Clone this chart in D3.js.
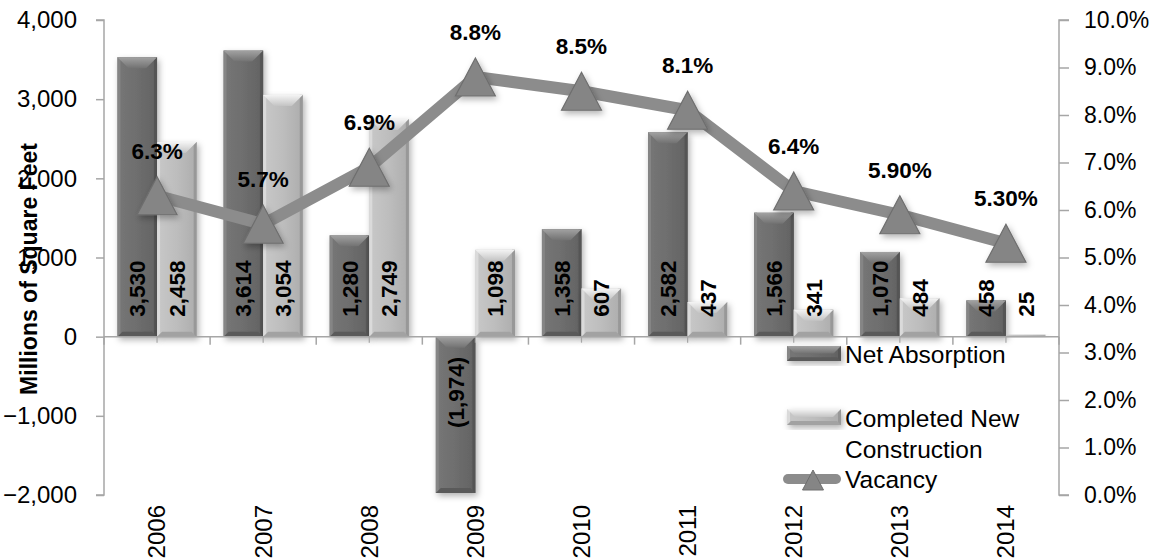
<!DOCTYPE html>
<html>
<head>
<meta charset="utf-8">
<script src="https://cdn.jsdelivr.net/npm/d3@7"></script>
<style>
html,body{margin:0;padding:0;background:#fff;}
svg{display:block;font-family:"Liberation Sans",Arial,sans-serif;}
</style>
</head>
<body>
<svg id="chart" width="1156" height="559"></svg>
<script>
const years = ["2006","2007","2008","2009","2010","2011","2012","2013","2014"];
const netAbsorption = [3530, 3614, 1280, -1974, 1358, 2582, 1566, 1070, 458];
const completedNew = [2458, 3054, 2749, 1098, 607, 437, 341, 484, 25];
const vacancy = [6.3, 5.7, 6.9, 8.8, 8.5, 8.1, 6.4, 5.9, 5.3];
const vacancyLabels = ["6.3%","5.7%","6.9%","8.8%","8.5%","8.1%","6.4%","5.90%","5.30%"];
const leftTicks = [-2000, -1000, 0, 1000, 2000, 3000, 4000];
const rightTicks = [0,1,2,3,4,5,6,7,8,9,10];
const seriesNames = ["Net Absorption", "Completed New Construction", "Vacancy"];

const svg = d3.select("#chart");
const plotL = 104, plotR = 1059, plotT = 20, plotB = 495;

const x = d3.scaleBand().domain(years).range([plotL, plotR]).padding(0);
const xs = d3.scaleBand().domain(["net","new"]).range([0, x.bandwidth()]).paddingInner(0).paddingOuter(0.34);
const y = d3.scaleLinear().domain([-2000, 4000]).range([plotB, plotT]);
const yr = d3.scaleLinear().domain([0, 10]).range([plotB, plotT]);

const defs = svg.append("defs");
function grad(id, stops, horiz){
  const g = defs.append("linearGradient").attr("id", id)
    .attr("x1","0").attr("y1","0").attr("x2", horiz ? "1" : "0").attr("y2", horiz ? "0" : "1");
  stops.forEach(s => g.append("stop").attr("offset", s[0]).attr("stop-color", s[1]));
}
grad("darkBody", [[0,"#767676"],[0.5,"#6e6e6e"],[1,"#626262"]], true);
grad("darkTop", [[0,"#a2a2a2"],[1,"#727272"]], false);
grad("lightBody", [[0,"#c8c8c8"],[0.5,"#bdbdbd"],[1,"#adadad"]], true);
grad("lightTop", [[0,"#f4f4f4"],[1,"#c4c4c4"]], false);
const f = defs.append("filter").attr("id","shadow").attr("x","-20%").attr("y","-20%").attr("width","150%").attr("height","150%");
f.append("feDropShadow").attr("dx",2).attr("dy",3).attr("stdDeviation",3).attr("flood-color","#000").attr("flood-opacity",0.3);

const style = {
  net: {body:"url(#darkBody)", top:"url(#darkTop)", left:"#858585", right:"#545454", bottom:"#5a5a5a"},
  new: {body:"url(#lightBody)", top:"url(#lightTop)", left:"#dadada", right:"#989898", bottom:"#a2a2a2"}
};

function bevelBar(g, bx, by, bw, bh, st){
  const grp = g.append("g").attr("filter","url(#shadow)");
  grp.append("rect").attr("x",bx).attr("y",by).attr("width",bw).attr("height",Math.max(bh,0.5)).attr("fill",st.body);
  if (bh < 3) return;
  const t = Math.min(11, bh/2), s = Math.min(t, bw/2), e = Math.min(3, bw/6), bb = Math.min(5, bh/4);
  grp.append("rect").attr("x",bx).attr("y",by).attr("width",e).attr("height",bh).attr("fill",st.left);
  grp.append("rect").attr("x",bx+bw-e).attr("y",by).attr("width",e).attr("height",bh).attr("fill",st.right);
  grp.append("polygon").attr("points",[[bx,by+bh],[bx+bw,by+bh],[bx+bw-bb,by+bh-bb],[bx+bb,by+bh-bb]].map(p=>p.join(",")).join(" ")).attr("fill",st.bottom);
  grp.append("polygon").attr("points",[[bx,by],[bx+bw,by],[bx+bw-s,by+t],[bx+s,by+t]].map(p=>p.join(",")).join(" ")).attr("fill",st.top);
}

// Axes
const axisColor = "#a6a6a6";
const leftAxis = svg.append("g").attr("transform",`translate(${plotL},0)`)
  .call(d3.axisLeft(y).tickValues(leftTicks).tickSize(8).tickPadding(19).tickFormat(d3.format(",")));
leftAxis.select(".domain").attr("stroke",axisColor).attr("stroke-width",1.5).attr("d",`M-8,${plotT}H0V${plotB}H-8`);
leftAxis.selectAll(".tick line").attr("stroke",axisColor).attr("stroke-width",1.5);
leftAxis.selectAll(".tick text").attr("font-size",24).attr("fill","#000").attr("font-family","Liberation Sans, Arial, sans-serif");

const rightAxis = svg.append("g").attr("transform",`translate(${plotR},0)`)
  .call(d3.axisRight(yr).tickValues(rightTicks).tickSize(10).tickPadding(15).tickFormat(d => d3.format(".1f")(d) + "%"));
rightAxis.select(".domain").attr("stroke",axisColor).attr("stroke-width",1.5).attr("d",`M10,${plotT}H0V${plotB}H10`);
rightAxis.selectAll(".tick line").attr("stroke",axisColor).attr("stroke-width",1.5);
rightAxis.selectAll(".tick text").attr("font-size",23).attr("fill","#000").attr("font-family","Liberation Sans, Arial, sans-serif");

// Bars
const barG = svg.append("g");
const y0 = y(0);
years.forEach((yr_, i) => {
  [["net", netAbsorption[i]], ["new", completedNew[i]]].forEach(([k, v]) => {
    const bx = x(yr_) + xs(k), bw = xs.bandwidth();
    const top = Math.min(y(v), y0), h = Math.abs(y(v) - y0);
    bevelBar(barG, bx, top, bw, h, style[k]);
  });
});

// Category axis (zero line)
const catG = svg.append("g");
catG.append("line").attr("x1",plotL).attr("x2",plotR).attr("y1",y0).attr("y2",y0).attr("stroke",axisColor).attr("stroke-width",1.5);
d3.range(years.length + 1).forEach(k => {
  const tx = plotL + k * x.step();
  catG.append("line").attr("x1",tx).attr("x2",tx).attr("y1",y0).attr("y2",y0+8).attr("stroke",axisColor).attr("stroke-width",1.5);
});
years.forEach(yy => {
  const cx = x(yy) + x.bandwidth()/2;
  catG.append("line").attr("x1",cx).attr("x2",cx).attr("y1",y0).attr("y2",y0+6).attr("stroke",axisColor).attr("stroke-width",1.2);
});

// Year labels
svg.append("g").selectAll("text").data(years).join("text")
  .attr("transform", d => `translate(${x(d) + x.bandwidth()/2},505) rotate(-90)`)
  .attr("text-anchor","end").attr("dy","0.35em")
  .attr("font-size",24).attr("fill","#000").text(d => d);

// Vacancy line
const lineG = svg.append("g");
const pts = years.map((d,i) => [x(d) + x.bandwidth()/2, yr(vacancy[i])]);
lineG.append("path").attr("d", d3.line()(pts)).attr("fill","none").attr("stroke","#8c8c8c").attr("stroke-width",12).attr("stroke-linejoin","round");
const tri = (cx, cy, w, h) => `M${cx},${cy - h/2}L${cx + w/2},${cy + h/2}L${cx - w/2},${cy + h/2}Z`;
lineG.selectAll("path.tri").data(pts).join("path").attr("class","tri")
  .attr("d", p => tri(p[0], p[1], 40, 38))
  .attr("fill","#858585").attr("stroke","#6e6e6e").attr("stroke-width",1.2).attr("filter","url(#shadow)");

// Bar value labels
const fmt = d3.format(",");
const lblG = svg.append("g");
years.forEach((yy, i) => {
  [["net", netAbsorption[i]], ["new", completedNew[i]]].forEach(([k, v]) => {
    const cx = x(yy) + xs(k) + xs.bandwidth()/2;
    const neg = v < 0;
    lblG.append("text")
      .attr("transform", `translate(${cx},${neg ? y0 + 20 : y0 - 20}) rotate(-90)`)
      .attr("text-anchor", neg ? "end" : "start").attr("dy","0.36em")
      .attr("font-size",22.5).attr("font-weight","bold").attr("fill","#000")
      .text(neg ? `(${fmt(-v)})` : fmt(v));
  });
});

// Vacancy labels
svg.append("g").selectAll("text").data(pts).join("text")
  .attr("x", p => p[0]).attr("y", p => p[1] - 37)
  .attr("text-anchor","middle").attr("font-size",22.5).attr("font-weight","bold").attr("fill","#000")
  .text((p,i) => vacancyLabels[i]);

// Y title
svg.append("text").attr("transform","translate(29,269) rotate(-90)")
  .attr("text-anchor","middle").attr("dy","0.35em")
  .attr("font-size",23).attr("font-weight","bold").attr("fill","#000")
  .text("Millions of Square Feet");

// Legend
const lg = svg.append("g");
bevelBar(lg, 787, 346, 54, 15, style.net);
bevelBar(lg, 787, 409, 54, 16, style.new);
lg.append("line").attr("x1",788).attr("x2",836).attr("y1",479).attr("y2",479).attr("stroke","#8c8c8c").attr("stroke-width",10).attr("stroke-linecap","round");
lg.append("path").attr("d", tri(813, 480, 21, 20)).attr("fill","#858585").attr("stroke","#6e6e6e").attr("stroke-width",1);
const legText = [["Net Absorption",363],["Completed New",427],["Construction",458],["Vacancy",488]];
lg.selectAll("text").data(legText).join("text")
  .attr("x",845).attr("y",d => d[1]).attr("font-size",24.5).attr("fill","#000").text(d => d[0]);
</script>
</body>
</html>
